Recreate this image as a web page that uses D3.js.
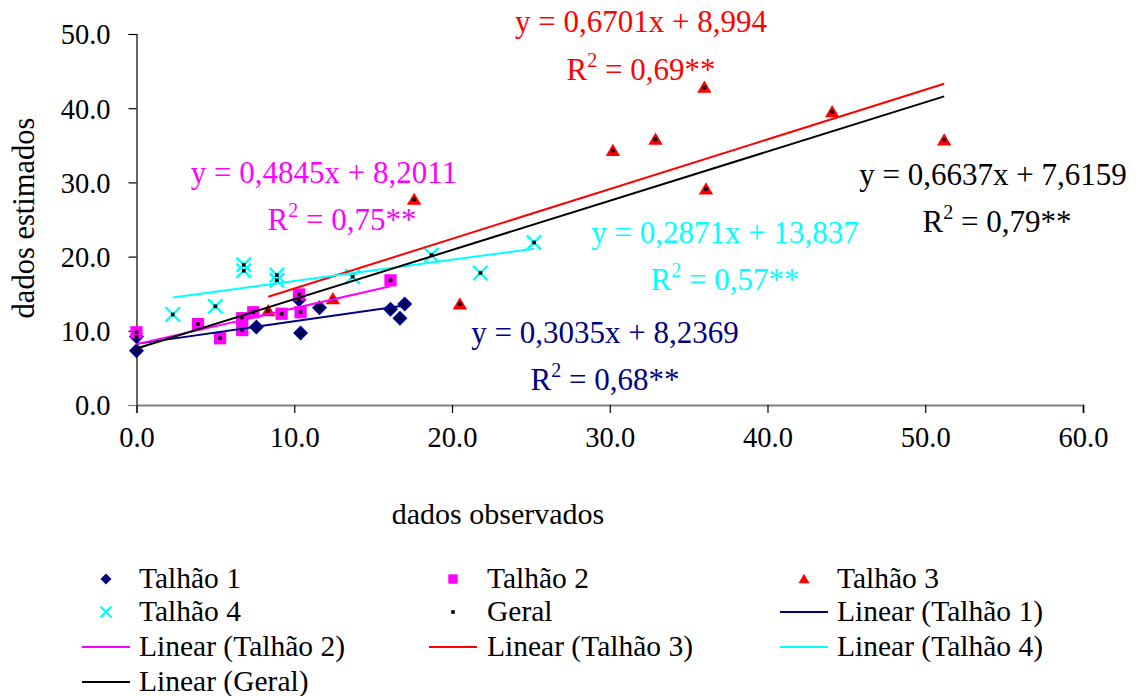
<!DOCTYPE html>
<html>
<head>
<meta charset="utf-8">
<script src="https://cdn.jsdelivr.net/npm/d3@7"></script>
<style>
  body { margin: 0; background: #fff; }
  svg text { font-family: "Liberation Serif", "Times New Roman", serif !important; }
</style>
</head>
<body>
<div id="chart"></div>
<script>
// data
const talhao1 = [[0, 7.3], [0, 9.2], [7.6, 10.5], [10.4, 9.7], [10.3, 14.2], [11.6, 13.1], [16.1, 12.9], [16.7, 11.7], [17.0, 13.6]]
const talhao2 = [[0, 9.8], [3.9, 10.9], [5.3, 9.0], [6.7, 11.7], [6.7, 10.1], [7.4, 12.5], [9.2, 12.3], [10.3, 14.9], [10.4, 12.5], [16.1, 16.8]]
const talhao3 = [[8.35, 12.7], [12.45, 14.3], [17.6, 27.7], [20.5, 13.6], [30.2, 34.3], [32.9, 35.8], [36.0, 42.8], [36.1, 29.1], [44.1, 39.5], [51.2, 35.7]]
const talhao4 = [[2.3, 12.2], [5.0, 13.3], [6.8, 18.9], [6.8, 18.1], [8.9, 17.5], [8.9, 16.8], [13.7, 17.3], [18.7, 20.2], [21.8, 17.8], [25.2, 21.9]]

const seriesNames = ['Talhão 1', 'Talhão 2', 'Talhão 3', 'Talhão 4', 'Geral']
const slopes = [0.3035, 0.4845, 0.6701, 0.2871, 0.6637]
const intercepts = [8.2369, 8.2011, 8.994, 13.837, 7.6159]
const equations = ['y = 0,3035x + 8,2369', 'y = 0,4845x + 8,2011', 'y = 0,6701x + 8,994', 'y = 0,2871x + 13,837', 'y = 0,6637x + 7,6159']
const r2s = ['0,68**', '0,75**', '0,69**', '0,57**', '0,79**']
const xTicks = [0, 10, 20, 30, 40, 50, 60]
const yTicks = [0, 10, 20, 30, 40, 50]

const colors = ['#000080', '#ff00ff', '#ff0000', '#00ffff', '#000000']
const geral = [].concat(talhao1, talhao2, talhao3, talhao4)
const groups = [talhao1, talhao2, talhao3, talhao4, geral]

//dimensions
const width = 1139, height = 696
const serif = '"Liberation Serif", "Times New Roman", serif'

const svg = d3.select('#chart')
  .append('svg')
  .attr('width', width)
  .attr('height', height)

const x = d3.scaleLinear().domain([0, 60]).range([136.5, 1083])
const y = d3.scaleLinear().domain([0, 50]).range([405, 34])

//axes
const yAxis = svg.append('g')
  .attr('transform', `translate(${x(0)},0)`)
  .call(d3.axisLeft(y).tickValues(yTicks).tickFormat(d3.format('.1f')).tickSize(8).tickPadding(18))
  .attr('font-family', serif)
yAxis.select('.domain').attr('stroke', '#000').attr('stroke-width', 1.2)
yAxis.selectAll('.tick line').attr('stroke', '#000').attr('stroke-width', 1.2)
yAxis.selectAll('text').attr('font-size', 28.5).attr('fill', '#000').attr('dy', '0.35em')

const xAxis = svg.append('g')
  .attr('transform', `translate(0,${y(0)})`)
  .call(d3.axisBottom(x).tickValues(xTicks).tickFormat(d3.format('.1f')).tickSize(8).tickPadding(14))
  .attr('font-family', serif)
xAxis.select('.domain').attr('stroke', '#808080').attr('stroke-width', 2.2)
xAxis.selectAll('.tick line').attr('stroke', '#000').attr('stroke-width', 1.2)
xAxis.selectAll('text').attr('font-size', 28.5).attr('fill', '#000')
yAxis.select('.tick line').attr('stroke', '#808080')

svg.append('text')
  .attr('x', 498).attr('y', 524)
  .attr('text-anchor', 'middle')
  .attr('font-size', 30)
  .text('dados observados')

svg.append('text')
  .attr('transform', 'translate(34,218) rotate(-90)')
  .attr('text-anchor', 'middle')
  .attr('font-size', 30.5)
  .text('dados estimados')

//marker shapes
function marker(g, i, s) {
  if (i === 0) {
    g.append('path').attr('d', `M0,${-s}L${s},0L0,${s}L${-s},0Z`).attr('fill', colors[0])
  } else if (i === 1) {
    g.append('rect').attr('x', -s * 0.85).attr('y', -s * 0.85).attr('width', s * 1.7).attr('height', s * 1.7).attr('fill', colors[1])
  } else if (i === 2) {
    g.append('path').attr('d', `M0,${-s * 0.95}L${s},${s * 0.75}L${-s},${s * 0.75}Z`).attr('fill', colors[2])
  } else if (i === 3) {
    g.append('path').attr('d', `M${-s},${-s}L${s},${s}M${s},${-s}L${-s},${s}`)
      .attr('stroke', colors[3]).attr('stroke-width', 2.4).attr('fill', 'none')
  } else {
    g.append('rect').attr('x', -1.8).attr('y', -1.8).attr('width', 3.6).attr('height', 3.6).attr('fill', '#000')
  }
}

//points
groups.forEach((data, i) => {
  svg.append('g')
    .selectAll('g')
    .data(data)
    .join('g')
    .attr('transform', d => `translate(${x(d[0])},${y(d[1])})`)
    .each(function () { marker(d3.select(this), i, i === 0 ? 7.5 : 7.2) })
})

//trend lines
groups.forEach((data, i) => {
  const ext = d3.extent(data, d => d[0])
  svg.append('line')
    .attr('x1', x(ext[0])).attr('y1', y(slopes[i] * ext[0] + intercepts[i]))
    .attr('x2', x(ext[1])).attr('y2', y(slopes[i] * ext[1] + intercepts[i]))
    .attr('stroke', colors[i])
    .attr('stroke-width', 2)
})

//equation labels
const labelPos = [[605, 343, 605, 390], [324, 183, 342, 230], [641, 32, 641, 80], [725, 243, 725, 290], [993, 185, 997, 232]]
labelPos.forEach((p, i) => {
  svg.append('text')
    .attr('x', p[0]).attr('y', p[1])
    .attr('text-anchor', 'middle')
    .attr('font-size', 31)
    .attr('fill', colors[i])
    .text(equations[i])
  const t = svg.append('text')
    .attr('x', p[2]).attr('y', p[3])
    .attr('text-anchor', 'middle')
    .attr('font-size', 31)
    .attr('fill', colors[i])
  t.append('tspan').text('R')
  t.append('tspan').attr('font-size', 20).attr('dy', -13).text('2')
  t.append('tspan').attr('dy', 13).text(' = ' + r2s[i])
})

//legend
const legendItems = [
  ...seriesNames.map((n, i) => ({ name: n, idx: i, kind: 'marker' })),
  ...seriesNames.map((n, i) => ({ name: 'Linear (' + n + ')', idx: i, kind: 'line' }))
]
const colX = [106, 453, 804]
const textX = [139, 487, 837]
const rowY = [579, 612, 647, 682]

legendItems.forEach((d, k) => {
  const col = k % 3, row = Math.floor(k / 3)
  const g = svg.append('g').attr('transform', `translate(${colX[col]},${rowY[row]})`)
  if (d.kind === 'marker') {
    marker(g, d.idx, 5.5)
  } else {
    g.append('line').attr('x1', -24).attr('x2', 24)
      .attr('stroke', colors[d.idx]).attr('stroke-width', 2)
  }
  svg.append('text')
    .attr('x', textX[col]).attr('y', rowY[row] + 9)
    .attr('font-size', 29.5)
    .text(d.name)
})
</script>
</body>
</html>
